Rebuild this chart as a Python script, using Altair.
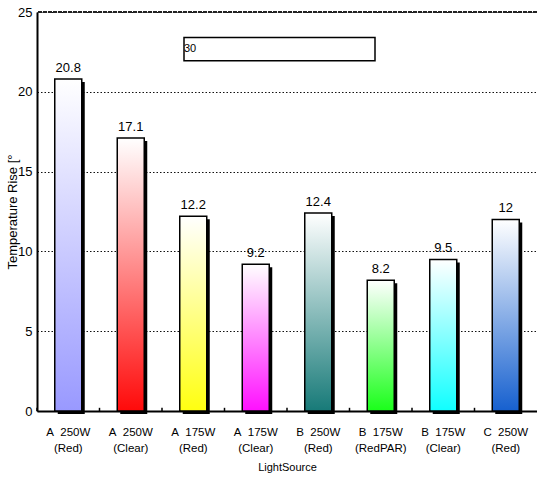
import altair as alt
import pandas as pd

NB = "\u00a0"
categories = ["A  250W\n(Red)", "A  250W\n(Clear)", "A  175W\n(Red)", "A  175W\n(Clear)",
              "B  250W\n(Red)", "B  175W\n(RedPAR)", "B  175W\n(Clear)", "C  250W\n(Red)"]
values = [20.8, 17.1, 12.2, 9.2, 12.4, 8.2, 9.5, 12]
labels = ["20.8", "17.1", "12.2", "9.2", "12.4", "8.2", "9.5", "12"]
colors = ["#9999FF", "#FF0A0A", "#FFFF10", "#FF10FF", "#177A78", "#1AFF1A", "#10FFFF", "#1660CF"]
y_ticks = [0, 5, 10, 15, 20, 25]
box_text = "30"
box_y = [21.95, 23.4]

categories = [c.replace(" ", NB) for c in categories]
df = pd.DataFrame({"cat": categories, "val": values, "lab": labels})

W, H = 500, 399
BAR = 27
FONT = "Liberation Sans"

xenc = alt.X("cat:N", sort=categories,
             scale=alt.Scale(paddingInner=0, paddingOuter=0),
             axis=alt.Axis(title="LightSource", labelExpr="split(datum.label, '\\n')",
                           labelAngle=0, labelFont=FONT, labelFontSize=11.5,
                           labelLineHeight=16, labelColor="black", labelPadding=15,
                           ticks=False, domainColor="black", domainWidth=2,
                           titleFont=FONT, titleFontSize=11,
                           titleFontWeight="normal", titleColor="black", titlePadding=8))
yenc = alt.Y("val:Q", scale=alt.Scale(domain=[0, 25], nice=False),
             axis=alt.Axis(title="Temperature Rise [°", values=y_ticks, grid=True,
                           gridDash=[1.5, 2], gridColor="#111", gridWidth=1,
                           ticks=False, labelPadding=5, labelFont=FONT, labelFontSize=13,
                           labelColor="black", domainColor="black", domainWidth=2,
                           titleFont=FONT, titleFontSize=13, titleFontWeight="normal",
                           titleColor="black", titleX=-25, titleY=H / 2,
                           titleBaseline="middle", titleAlign="center", titleAngle=270))

base = alt.Chart(df)

shadow = base.mark_bar(size=BAR, color="black", xOffset=3, yOffset=3).encode(x=xenc, y=yenc)

bar_layers = []
for cat, col in zip(categories, colors):
    grad = alt.Gradient(gradient="linear", x1=0, x2=0, y1=0, y2=1,
                        stops=[alt.GradientStop(color="white", offset=0),
                               alt.GradientStop(color=col, offset=1)])
    bar_layers.append(
        base.transform_filter(alt.datum.cat == cat)
        .mark_bar(size=BAR, color=grad, stroke="black", strokeWidth=1.5)
        .encode(x=xenc, y=yenc)
    )

text = base.mark_text(font=FONT, fontSize=13, baseline="bottom", dy=-4, color="black").encode(
    x=xenc, y=yenc, text="lab:N")

xticks = base.mark_rule(color="black", strokeWidth=1.5).encode(
    x=alt.X("cat:N", sort=categories, bandPosition=0), y=alt.datum(0), y2=alt.datum(0.2))

top_line = alt.Chart(pd.DataFrame({"y": [25]})).mark_rule(
    color="#222", strokeWidth=2, strokeDash=[4, 1]).encode(y="y:Q")

box = alt.Chart(pd.DataFrame({"y1": [box_y[0]], "y2": [box_y[1]], "t": [box_text]})).mark_rect(
    fill="white", stroke="black", strokeWidth=1.5).encode(
    x=alt.value(147), x2=alt.value(338), y="y1:Q", y2="y2:Q")
box_label = alt.Chart(pd.DataFrame({"y": [(box_y[0] + box_y[1]) / 2], "t": [box_text]})).mark_text(
    font=FONT, fontSize=11, align="left", baseline="middle", color="black", dx=-1).encode(
    x=alt.value(148), y="y:Q", text="t:N")

chart = alt.layer(shadow, *bar_layers, text, xticks, top_line, box, box_label).properties(
    width=W, height=H,
    autosize=alt.AutoSizeParams(type="none"),
    padding={"left": 37, "top": 12, "right": 0, "bottom": 68},
).configure_view(stroke=None).configure(background="white")

chart.save("out.html", embed_options={"renderer": "svg", "actions": False})
